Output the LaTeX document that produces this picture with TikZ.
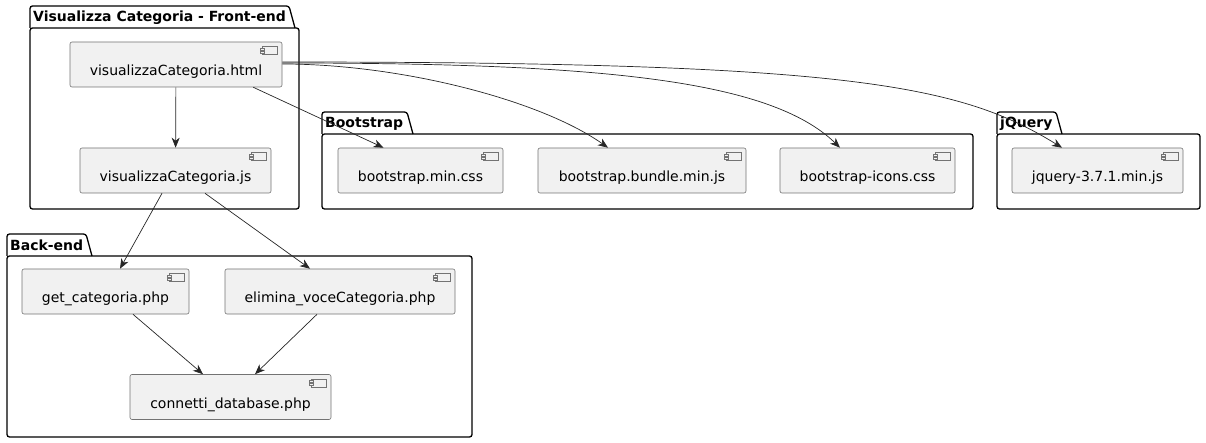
\documentclass[tikz,border=0pt]{standalone}
\usepackage{fontspec}
\setmainfont{DejaVu Sans}
\usetikzlibrary{arrows.meta}

\definecolor{compfill}{HTML}{F1F1F1}
\tikzset{
  comp/.style={draw=black!55, fill=compfill, line width=0.6pt, rounded corners=2pt,
    minimum height=45pt, inner sep=0pt, text height=22pt, text depth=0pt,
    font=\fontsize{14}{16}\selectfont},
  dep/.style={-{Stealth[length=10pt,width=8pt,inset=3pt]}, line width=0.7pt, black!85},
  pkgline/.style={line width=1.3pt, rounded corners=2.5pt},
}
% package with tab: x1, y1, x2, y2, tab end, title
\newcommand{\umlpkg}[6]{%
  \draw[pkgline] (#1,#2+22) -- (#1,#2) -- (#5-6,#2) -- (#5,#2+22);
  \draw[pkgline] (#1,#2+22) rectangle (#3,#4);
  \node[anchor=west, inner sep=0pt, font=\bfseries\fontsize{14}{16}\selectfont] at (#1+3,#2+11.5) {#6};
}

\begin{document}
\begin{tikzpicture}[x=1pt, y=-1pt]
\useasboundingbox (0,0) rectangle (1206,443);

\umlpkg{30}{6}{299}{209}{295}{Visualizza Categoria - Front-end}
\umlpkg{322}{112}{973}{209}{413}{Bootstrap}
\umlpkg{997}{112}{1200}{209}{1062}{jQuery}
\umlpkg{7}{234}{472}{437}{92}{Back-end}

\node[comp, minimum width=212pt] (html) at (176,64.5) {visualizzaCategoria.html\hspace{9pt}};
\node[comp, minimum width=191pt] (js) at (175.5,170.5) {visualizzaCategoria.js\hspace{9pt}};
\node[comp, minimum width=165pt] (bsmin) at (420.5,170.5) {bootstrap.min.css\hspace{9pt}};
\node[comp, minimum width=208pt] (bsbundle) at (642,170.5) {bootstrap.bundle.min.js\hspace{9pt}};
\node[comp, minimum width=175pt] (bsicons) at (867.5,170.5) {bootstrap-icons.css\hspace{9pt}};
\node[comp, minimum width=171pt] (jq) at (1097.5,170.5) {jquery-3.7.1.min.js\hspace{9pt}};
\node[comp, minimum width=167pt] (getcat) at (105.5,291.5) {get\_categoria.php\hspace{9pt}};
\node[comp, minimum width=230pt] (elimina) at (340,291.5) {elimina\_voceCategoria.php\hspace{9pt}};
\node[comp, minimum width=201pt] (connetti) at (230.5,397) {connetti\_database.php\hspace{9pt}};

% component icons
\foreach \n in {html,js,bsmin,bsbundle,bsicons,jq,getcat,elimina,connetti}{
  \draw[black!55, line width=0.5pt, fill=compfill] ([shift={(-20,5)}]\n.north east) rectangle ([shift={(-5,13)}]\n.north east);
  \draw[black!55, line width=0.5pt, fill=compfill] ([shift={(-22,6.5)}]\n.north east) rectangle ([shift={(-18,8.5)}]\n.north east);
  \draw[black!55, line width=0.5pt, fill=compfill] ([shift={(-22,9.5)}]\n.north east) rectangle ([shift={(-18,11.5)}]\n.north east);
}

\draw[dep] (html) -- (js);
\draw[dep] ([xshift=-29pt]html.south east) -- ([xshift=-37pt]bsmin.north);
\draw[dep] ([yshift=0.5pt]html.east) .. controls +(118,0) and +(-68,-48) .. ([xshift=-34pt]bsbundle.north);
\draw[dep] ([yshift=1.5pt]html.east) .. controls +(318,0) and +(-70,-68) .. ([xshift=-27.5pt]bsicons.north);
\draw[dep] ([yshift=2.5pt]html.east) .. controls +(568,0) and +(-102,-63) .. ([xshift=-35.5pt]jq.north);
\draw[dep] ([xshift=-13.5pt]js.south) -- ([xshift=14.5pt]getcat.north);
\draw[dep] ([xshift=29.5pt]js.south) -- ([xshift=-30pt]elimina.north);
\draw[dep] ([xshift=27.5pt]getcat.south) -- ([xshift=-27.5pt]connetti.north);
\draw[dep] ([xshift=-23pt]elimina.south) -- ([xshift=24.5pt]connetti.north);
\end{tikzpicture}
\end{document}
